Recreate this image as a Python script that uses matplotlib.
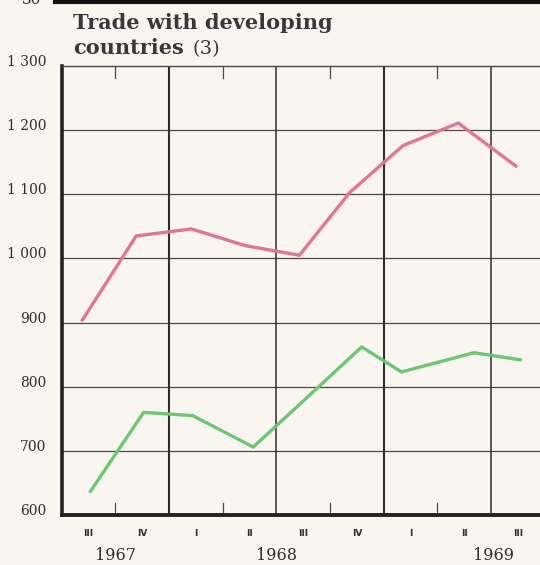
import matplotlib
matplotlib.use('Agg')
from matplotlib import pyplot as plt
from matplotlib.lines import Line2D

# quarters shown on the x axis (1967 Q3 .. 1969 Q3)
quarters = ['III', 'IV', 'I', 'II', 'III', 'IV', 'I', 'II', 'III']
years = ['1967', '1968', '1969']
year_pos = [1.0, 4.0, 8.05]

# positions of the line vertices, in quarters from the left edge
pink_pos = [0.39, 1.39, 2.42, 3.42, 4.43, 5.37, 6.36, 7.39, 8.46]
green_pos = [0.54, 1.53, 2.44, 3.57, 4.57, 5.59, 6.33, 7.68, 8.54]

# values
pink_vals = [904, 1035, 1046, 1020, 1005, 1103, 1176, 1211, 1144]
green_vals = [637, 760, 755, 706, 783, 862, 823, 853, 842]

y_ticks = [600, 700, 800, 900, 1000, 1100, 1200, 1300]
y_labels = ['600', '700', '800', '900', '1 000', '1 100', '1 200', '1 300']

paper = '#f8f6ee'
ink = '#2e2e2e'
grid_col = '#4a4a44'
serif = ['DejaVu Serif']

fig = plt.figure(figsize=(5.4, 5.65), dpi=100, facecolor=paper)
ax = fig.add_axes([61.5/540, 50/565, 1 - 61.5/540, 449/565])
ax.set_facecolor(paper)

ax.set_xlim(0, 8.91)
ax.set_ylim(600, 1300)
px = 700 / 449.0   # data units per pixel on y
pxx = 8.91 / 478.5  # data units per pixel on x

# horizontal grid
for v in y_ticks[1:-1]:
    ax.axhline(v, color=grid_col, lw=0.9, zorder=1)

# vertical lines at every second quarter boundary, short ticks between
for k in range(1, 10):
    if k % 2 == 0:
        lw = 1.5 if k in (2, 6) else 1.1
        ax.axvline(k, color=ink, lw=lw, zorder=1)
    else:
        ax.plot([k, k], [600, 600 + 12*px], color=grid_col, lw=0.9, zorder=1, clip_on=False)
        ax.plot([k, k], [1300, 1300 - 12*px], color=grid_col, lw=0.9, zorder=1, clip_on=False)

ax.plot(pink_pos, pink_vals, color='#e4739a', lw=2.4, solid_joinstyle='miter', zorder=3)
ax.plot(green_pos, green_vals, color='#6cc870', lw=2.4, solid_joinstyle='miter', zorder=3)

# spines
ax.spines['right'].set_visible(False)
ax.spines['left'].set_linewidth(2.6)
ax.spines['left'].set_color('#222222')
ax.spines['bottom'].set_linewidth(2.8)
ax.spines['bottom'].set_color('#222222')
ax.spines['top'].set_linewidth(1.0)
ax.spines['top'].set_color(grid_col)

ax.set_xticks([])
ax.set_yticks([])
for v, lab in zip(y_ticks, y_labels):
    ax.text(-15*pxx, v + 4*px, lab, ha='right', va='center', family=serif,
            fontsize=10, color=ink, clip_on=False)

# quarter labels
for i, q in enumerate(quarters):
    ax.text(i + 0.5, 600 - 18*px, q, ha='center', va='center',
            fontsize=6.5, color=ink, family='Liberation Sans Narrow', fontweight='bold')
for y, p in zip(years, year_pos):
    ax.text(p, 600 - 41*px, y, ha='center', va='center', fontsize=11.5,
            color=ink, family=serif)

# title
title_col = '#383838'
fig.text(73/540, 1 - 29/565, 'Trade with developing', family=serif, fontweight='bold',
         fontsize=15, color=title_col, ha='left', va='baseline')
fig.text(73/540, 1 - 54/565, 'countries', family=serif, fontweight='bold',
         fontsize=15, color=title_col, ha='left', va='baseline')
fig.text(192/540, 1 - 54/565, '(3)', family=serif, fontsize=14, color=title_col,
         ha='left', va='baseline')

# page edge: black band and cut-off page number
fig.add_artist(Line2D([55/540, 1], [1 - 1.5/565, 1 - 1.5/565], color='#111111', lw=3,
                      transform=fig.transFigure))
fig.text(32/540, 1.0, '30', family=serif, fontsize=11, color=ink, ha='center', va='center')

fig.savefig('out.png', dpi=100, facecolor=paper)
